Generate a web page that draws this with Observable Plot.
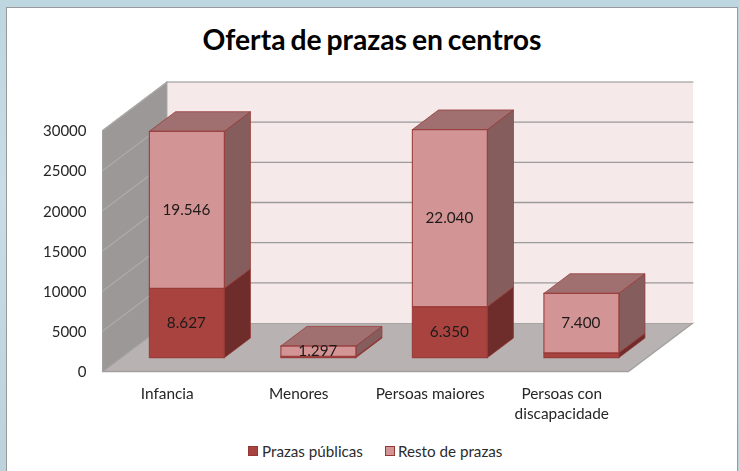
<!DOCTYPE html>
<html lang="gl">
<head>
<meta charset="utf-8">
<script src="https://cdn.jsdelivr.net/npm/d3@7"></script>
<script src="https://cdn.jsdelivr.net/npm/@observablehq/plot@0.6"></script>
<style>
html,body{margin:0;padding:0;width:739px;height:471px;overflow:hidden;background:linear-gradient(180deg,#bdd6e0 0%,#c8dde5 40%,#bcd3dc 100%);font-family:Lato,"Open Sans",sans-serif;}
#frame{position:absolute;left:6px;top:7px;width:732px;height:470px;box-sizing:border-box;background:#fff;border:1.5px solid #969a9c;}
#title{position:absolute;left:6px;width:732px;top:19px;height:43px;line-height:40px;margin:0;text-align:center;font-size:28.3px;font-weight:700;color:#000;word-spacing:-2px;}
#chart{position:absolute;left:0;top:62px;filter:blur(0.3px);}
#legend{position:absolute;left:0;width:739px;top:441px;height:20px;font-size:15.2px;color:#2b2b2b;}
#legend span{position:absolute;top:0;line-height:20px;white-space:nowrap;}
#legend i{position:absolute;top:5px;width:10px;height:10px;box-sizing:border-box;border:1px solid #953735;}
svg text{font-family:Lato,"Open Sans",sans-serif;}
</style>
</head>
<body>
<div id="frame"></div>
<h1 id="title">Oferta de prazas en centros</h1>
<div id="chart"></div>
<div id="legend"></div>
<script>
const categories = ["Infancia", "Menores", "Persoas maiores", "Persoas con\ndiscapacidade"];
const prazasPublicas = [8627, 150, 6350, 600];
const restoDePrazas = [19546, 1297, 22040, 7400];
const seriesNames = ["Prazas públicas", "Resto de prazas"];
const yTicks = [0, 5000, 10000, 15000, 20000, 25000, 30000];
const labelThreshold = 1000;

const colors = {
  wall: "#9c9898", floor: "#b8b2b2", back: "#f5e9e9", grid: "#9c9a9a", wallGrid: "#aeabab",
  pubFront: "#a9433f", pubSide: "#6e2d2b", pubTop: "#85403d",
  restFront: "#d29494", restSide: "#855d5d", restTop: "#a07070", edge: "#953735"
};

// Oblique projection, in data units: category width and value units per unit of depth.
const depthX = 0.49, depthY = 6040;
const nCat = categories.length, yMax = 30000;
const barW = 0.57, d0 = 0.285, d1 = 0.69, barShift = 0.002;
const P = (c, v, d) => ({x: c + d * depthX, y: v + d * depthY});
const poly = (pts, fill, stroke, strokeWidth = 1.2, strokeOpacity = 1) =>
  Plot.line([...pts, pts[0]], {x: "x", y: "y", fill, stroke, strokeWidth, strokeOpacity, curve: "linear", strokeLinejoin: "round"});

const marks = [];
// Floor, side wall, back wall
marks.push(poly([P(0, 0, 0), P(nCat, 0, 0), P(nCat, 0, 1), P(0, 0, 1)], colors.floor, "#a3a0a0", 1.5));
marks.push(poly([P(0, 0, 1), P(nCat, 0, 1), P(nCat, yMax, 1), P(0, yMax, 1)], colors.back, "none"));
marks.push(poly([P(0, 0, 0), P(0, 0, 1), P(0, yMax, 1), P(0, yMax, 0)], colors.wall, "#a3a0a0", 1));
// Gridlines
for (const t of yTicks.slice(1)) {
  marks.push(Plot.line([P(0, t, 0), P(0, t, 1)], {x: "x", y: "y", stroke: colors.wallGrid, strokeWidth: 1.2}));
  marks.push(Plot.line([P(0, t, 1), P(nCat, t, 1)], {x: "x", y: "y", stroke: colors.grid, strokeWidth: 1.3, strokeOpacity: t === yMax ? 0.75 : 1}));
}
// Bars
function box(i, lo, hi, front, side, top, withTop) {
  const a = i + 0.5 + barShift - barW / 2, b = a + barW;
  const out = [];
  out.push(poly([P(b, lo, d0), P(b, lo, d1), P(b, hi, d1), P(b, hi, d0)], side, colors.edge, 1, 0.75));
  if (withTop) out.push(poly([P(a, hi, d0), P(b, hi, d0), P(b, hi, d1), P(a, hi, d1)], top, colors.edge, 1, 0.75));
  out.push(poly([P(a, lo, d0), P(b, lo, d0), P(b, hi, d0), P(a, hi, d0)], front, colors.edge, 1.2, 0.85));
  return out;
}
const labels = [];
categories.forEach((c, i) => {
  const p = prazasPublicas[i], r = restoDePrazas[i];
  marks.push(...box(i, 0, p, colors.pubFront, colors.pubSide, colors.pubTop, false));
  marks.push(...box(i, p, p + r, colors.restFront, colors.restSide, colors.restTop, true));
  if (p >= labelThreshold) labels.push({...P(i + 0.5 + barShift, p / 2, d0), v: p});
  if (r >= labelThreshold) labels.push({...P(i + 0.5 + barShift, p + r / 2, d0), v: r});
});
const fmt = d3.formatLocale({decimal: ",", thousands: ".", grouping: [3], currency: ["", "€"]}).format(",d");
marks.push(Plot.text(labels, {x: "x", y: "y", text: d => fmt(d.v), fontSize: 15.3, dx: -0.5, fill: "#1f1a1a"}));
// Axes
marks.push(Plot.axisY({ticks: yTicks, tickFormat: d => String(d), tickSize: 0, tickPadding: 16, fontSize: 15, dy: 1, color: "#262626", label: null}));
marks.push(Plot.axisX({ticks: categories.map((_, i) => i + 0.5), tickFormat: v => categories[Math.floor(v)], tickSize: 0, tickPadding: 13, fontSize: 15.4, dx: -1, lineHeight: 1.3, color: "#262626", lineAnchor: "top", label: null}));

const chart = Plot.plot({
  width: 739, height: 375,
  marginLeft: 102, marginRight: 111, marginTop: 68, marginBottom: 66,
  style: {background: "transparent", overflow: "visible"},
  x: {domain: [0, nCat], axis: null},
  y: {domain: [0, yMax], axis: null},
  marks
});
document.getElementById("chart").appendChild(chart);

const legend = document.getElementById("legend");
[[248, 262, colors.pubFront], [385, 398, colors.restFront]].forEach(([sx, tx, col], k) => {
  const sw = document.createElement("i");
  sw.style.left = sx + "px"; sw.style.background = col;
  const sp = document.createElement("span");
  sp.style.left = tx + "px"; sp.textContent = seriesNames[k];
  legend.append(sw, sp);
});
</script>
</body>
</html>
